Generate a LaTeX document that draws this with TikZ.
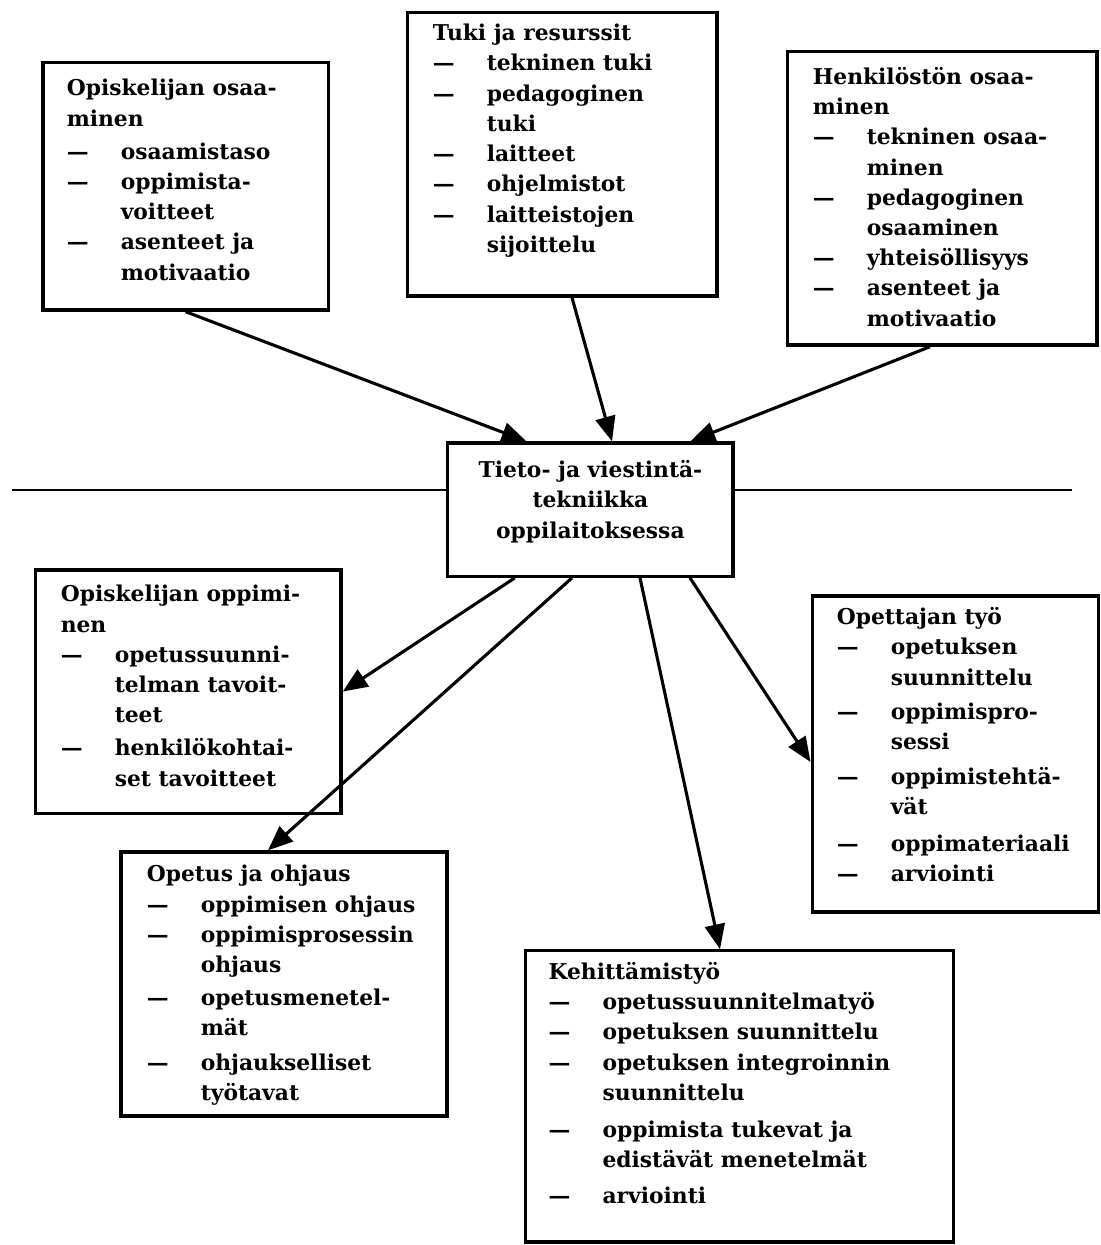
\documentclass[tikz,border=0pt]{standalone}
\usepackage{fontspec}
\setmainfont{DejaVu Serif}
\usetikzlibrary{arrows.meta}

\newcommand{\dsh}{\makebox[1.35cm][l]{—}}
\newcommand{\cnt}{\hspace*{1.35cm}}

\tikzset{
  box/.style={draw, line width=2.4pt, fill=white, inner sep=0pt},
  txt/.style={anchor=north west, inner sep=0pt, align=left, font=\bfseries\fontsize{15.5}{21.5}\selectfont},
  arr/.style={-{Triangle[length=0.62cm,width=0.5cm]}, line width=2.2pt},
}

\begin{document}
\begin{tikzpicture}
\useasboundingbox (0,0) rectangle (27.5,-31.125);
\draw[line width=1.4pt] (0.3,-12.25) -- (26.8,-12.25);

% upper boxes
\node[box, minimum width=7.13cm, minimum height=6.18cm] (opisk) at (4.64,-4.66) {};
\node[box, minimum width=7.73cm, minimum height=7.08cm] (tuki) at (14.06,-3.86) {};
\node[box, minimum width=7.73cm, minimum height=7.33cm] (henk) at (23.56,-4.96) {};

% centre
\node[box, minimum width=7.13cm, minimum height=3.33cm] (tvt) at (14.76,-12.74) {};
\node[txt, anchor=center, align=center] (t-tvt) at ([yshift=0.2cm]tvt.center)
      {Tieto- ja viestintä-\\tekniikka\\oppilaitoksessa};

% lower boxes
\node[box, minimum width=7.63cm, minimum height=6.08cm] (oppim) at (4.71,-17.29) {};
\node[box, minimum width=7.15cm, minimum height=7.9cm] (opett) at (23.88,-18.85) {};
\node[box, minimum width=8.15cm, minimum height=6.6cm] (ohjaus) at (7.1,-24.6) {};
\node[box, minimum width=10.7cm, minimum height=7.28cm] (kehit) at (18.48,-27.41) {};

% texts
\node[txt] (t-opisk) at ([shift={(0.63,-0.45)}]opisk.north west)
  {Opiskelijan osaa-\\minen\\[2pt]
   \dsh osaamistaso\\
   \dsh oppimista-\\\cnt voitteet\\
   \dsh asenteet ja\\\cnt motivaatio};
\node[txt] (t-tuki) at ([shift={(0.66,-0.32)}]tuki.north west)
  {Tuki ja resurssit\\
   \dsh tekninen tuki\\
   \dsh pedagoginen\\\cnt tuki\\
   \dsh laitteet\\
   \dsh ohjelmistot\\
   \dsh laitteistojen\\\cnt sijoittelu};
\node[txt] (t-henk) at ([shift={(0.66,-0.42)}]henk.north west)
  {Henkilöstön osaa-\\minen\\
   \dsh tekninen osaa-\\\cnt minen\\
   \dsh pedagoginen\\\cnt osaaminen\\
   \dsh yhteisöllisyys\\
   \dsh asenteet ja\\\cnt motivaatio};
\node[txt] (t-oppim) at ([shift={(0.66,-0.42)}]oppim.north west)
  {Opiskelijan oppimi-\\nen\\
   \dsh opetussuunni-\\\cnt telman tavoit-\\\cnt teet\\[2pt]
   \dsh henkilökohtai-\\\cnt set tavoitteet};
\node[txt] (t-opett) at ([shift={(0.65,-0.32)}]opett.north west)
  {Opettajan työ\\
   \dsh opetuksen\\\cnt suunnittelu\\[3pt]
   \dsh oppimispro-\\\cnt sessi\\[3pt]
   \dsh oppimistehtä-\\\cnt vät\\[5pt]
   \dsh oppimateriaali\\
   \dsh arviointi};
\node[txt] (t-ohjaus) at ([shift={(0.68,-0.37)}]ohjaus.north west)
  {Opetus ja ohjaus\\
   \dsh oppimisen ohjaus\\
   \dsh oppimisprosessin\\\cnt ohjaus\\[2pt]
   \dsh opetusmenetel-\\\cnt mät\\[3pt]
   \dsh ohjaukselliset\\\cnt työtavat};
\node[txt] (t-kehit) at ([shift={(0.62,-0.32)}]kehit.north west)
  {Kehittämistyö\\
   \dsh opetussuunnitelmatyö\\
   \dsh opetuksen suunnittelu\\
   \dsh opetuksen integroinnin\\\cnt suunnittelu\\[5pt]
   \dsh oppimista tukevat ja\\\cnt edistävät menetelmät\\[4pt]
   \dsh arviointi};

% arrows into the centre
\draw[arr] (opisk.south) -- ([xshift=-1.6cm]tvt.north);
\draw[arr] ([xshift=0.24cm]tuki.south) -- ([xshift=0.54cm]tvt.north);
\draw[arr] ([xshift=-0.31cm]henk.south) -- ([xshift=2.5cm]tvt.north);

% arrows out of the centre
\draw[arr] ([xshift=-1.89cm]tvt.south) -- (oppim.east);
\draw[arr] ([xshift=-0.46cm]tvt.south) -- ([xshift=-0.4cm]ohjaus.north);
\draw[arr] ([xshift=1.24cm]tvt.south) -- ([xshift=-0.48cm]kehit.north);
\draw[arr] ([xshift=2.49cm]tvt.south) -- ([yshift=-0.2cm]opett.west);
\end{tikzpicture}
\end{document}
